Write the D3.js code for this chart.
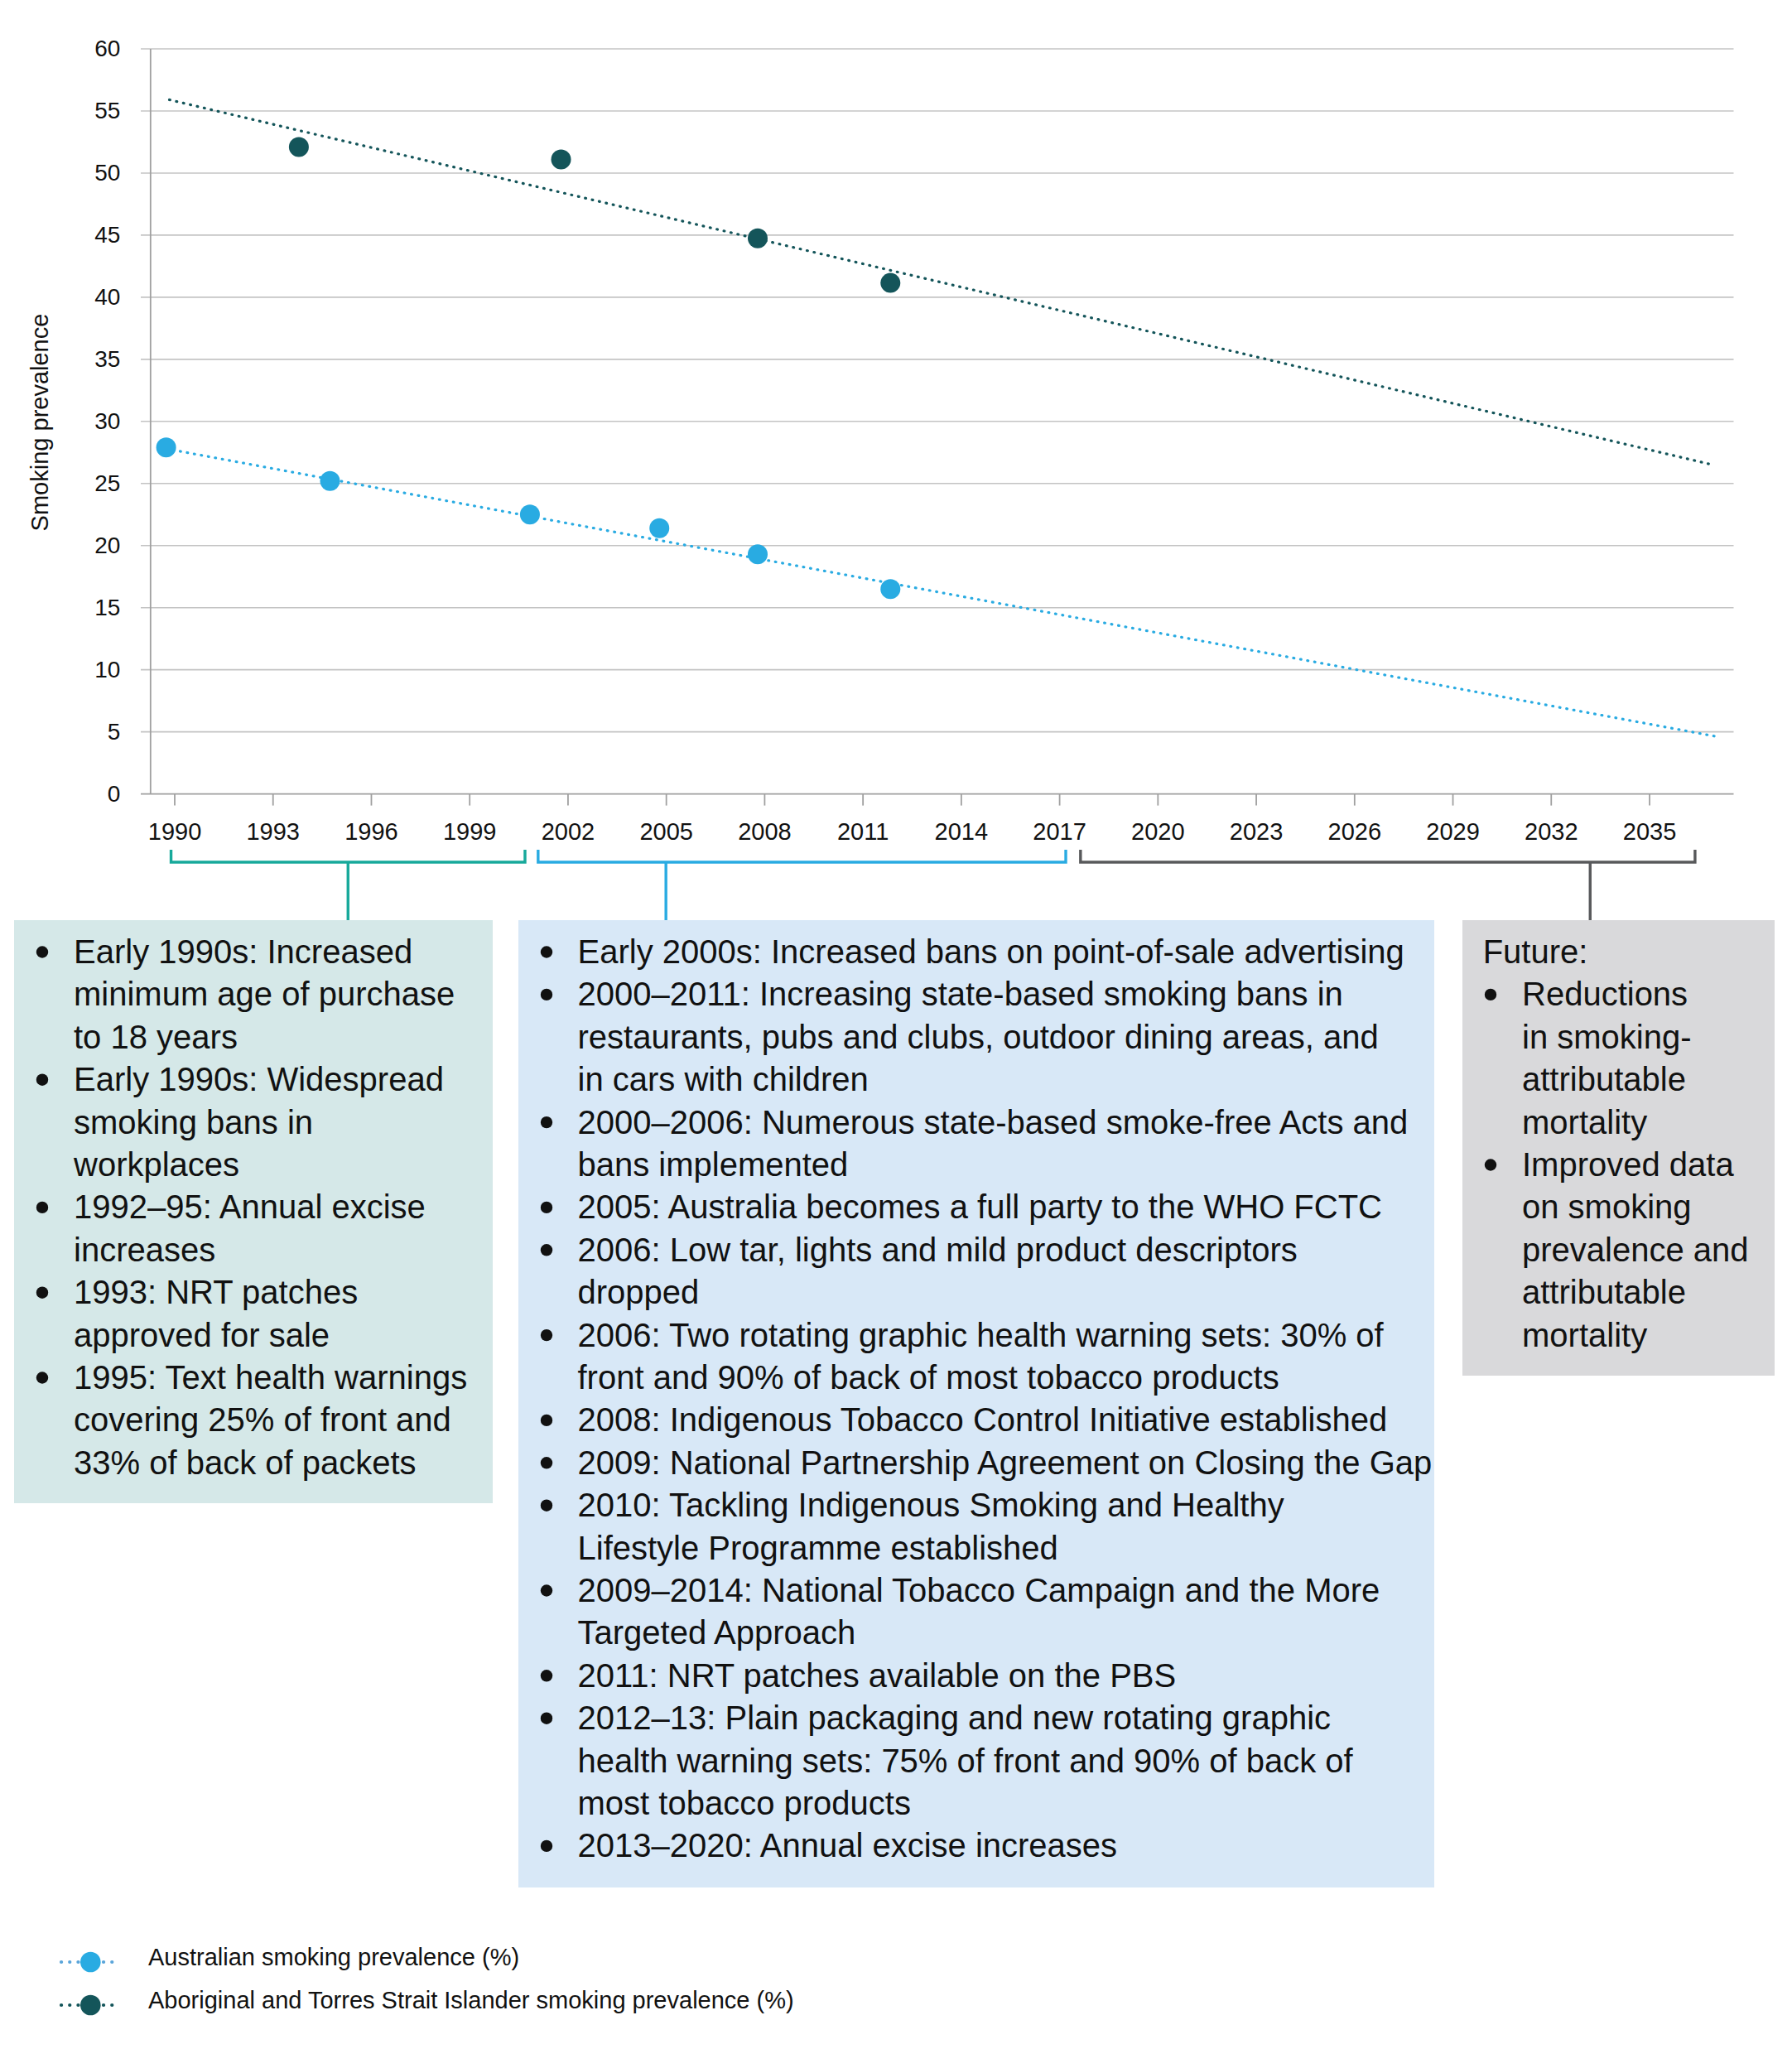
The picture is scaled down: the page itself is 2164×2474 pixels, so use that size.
<!DOCTYPE html>
<html><head><meta charset="utf-8">
<script src="https://cdn.jsdelivr.net/npm/d3@7"></script>
<style>
html,body{margin:0;padding:0;background:#fff;}
svg{display:block;}
text{font-family:"Liberation Sans",Arial,Helvetica,sans-serif;fill:#111;}
</style>
</head><body>
<svg id="chart" width="2164" height="2474"></svg>
<script>
// ---------- data ----------
const tickYears = [1990,1993,1996,1999,2002,2005,2008,2011,2014,2017,2020,2023,2026,2029,2032,2035];
const yTicks = [0,5,10,15,20,25,30,35,40,45,50,55,60];

const australianYears  = [1989.75, 1994.75, 2000.85, 2004.8, 2007.8, 2011.85];
const australianValues = [27.9, 25.2, 22.5, 21.4, 19.3, 16.5];

const indigenousYears  = [1993.8, 2001.8, 2007.8, 2011.85];
const indigenousValues = [52.1, 51.1, 44.75, 41.15];

const australianTrendYears  = [1989.75, 2037.1];
const australianTrendValues = [27.8, 4.6];
const indigenousTrendYears  = [1989.85, 2036.95];
const indigenousTrendValues = [55.9, 26.5];

const seriesNames = ["Australian smoking prevalence (%)", "Aboriginal and Torres Strait Islander smoking prevalence (%)"];

// periods (in years) spanned by the brackets, and where each stem drops
const periodStarts = [1989.9, 2001.1, 2017.65];
const periodEnds   = [2000.7, 2017.2, 2036.4];
const periodStems  = [1995.3, 2005.0, 2033.2];

const earlyItems = [
  ["Early 1990s: Increased", "minimum age of purchase", "to 18 years"],
  ["Early 1990s: Widespread", "smoking bans in", "workplaces"],
  ["1992\u201395: Annual excise", "increases"],
  ["1993: NRT patches", "approved for sale"],
  ["1995: Text health warnings", "covering 25% of front and", "33% of back of packets"]
];
const midItems = [
  ["Early 2000s: Increased bans on point-of-sale advertising"],
  ["2000\u20132011: Increasing state-based smoking bans in", "restaurants, pubs and clubs, outdoor dining areas, and", "in cars with children"],
  ["2000\u20132006: Numerous state-based smoke-free Acts and", "bans implemented"],
  ["2005: Australia becomes a full party to the WHO FCTC"],
  ["2006: Low tar, lights and mild product descriptors", "dropped"],
  ["2006: Two rotating graphic health warning sets: 30% of", "front and 90% of back of most tobacco products"],
  ["2008: Indigenous Tobacco Control Initiative established"],
  ["2009: National Partnership Agreement on Closing the Gap"],
  ["2010: Tackling Indigenous Smoking and Healthy", "Lifestyle Programme established"],
  ["2009\u20132014: National Tobacco Campaign and the More", "Targeted Approach"],
  ["2011: NRT patches available on the PBS"],
  ["2012\u201313: Plain packaging and new rotating graphic", "health warning sets: 75% of front and 90% of back of", "most tobacco products"],
  ["2013\u20132020: Annual excise increases"]
];
const futureTitle = "Future:";
const futureItems = [
  ["Reductions", "in smoking-", "attributable", "mortality"],
  ["Improved data", "on smoking", "prevalence and", "attributable", "mortality"]
];

// ---------- styles ----------
const colLight = "#29abe2";
const colDark = "#14555a";
const colGreen = "#17a99b";
const colGrey = "#58595b";

const svg = d3.select("#chart");

const plotLeft = 181.8, plotRight = 2093.5, gridLeft = 170;
const x = d3.scaleLinear().domain([1990, 2035]).range([210.5, 1991.5]);
const y = d3.scaleLinear().domain([0, 60]).range([958.6, 59]);

// gridlines
svg.append("g").selectAll("line").data(yTicks.filter(d => d > 0)).join("line")
  .attr("x1", gridLeft).attr("x2", plotRight)
  .attr("y1", d => y(d)).attr("y2", d => y(d))
  .attr("stroke", "#c4c4c4").attr("stroke-width", 1.6);

// y axis
const yAxis = svg.append("g").attr("transform", `translate(${gridLeft},0)`)
  .call(d3.axisLeft(y).tickValues(yTicks).tickSize(0).tickPadding(24.7));
yAxis.select(".domain").remove();
yAxis.selectAll("text").attr("font-size", 28).attr("fill", "#111")
  .style("font-family", '"Liberation Sans",Arial,Helvetica,sans-serif');

// x axis
const xAxis = svg.append("g").attr("transform", `translate(0,${y(0)})`)
  .call(d3.axisBottom(x).tickValues(tickYears).tickFormat(d3.format("d")).tickSize(14));
xAxis.select(".domain").remove();
xAxis.selectAll("line").attr("stroke", "#a0a0a0").attr("stroke-width", 1.8);
xAxis.selectAll("text").attr("font-size", 29).attr("fill", "#111")
  .attr("y", 55.4).attr("dy", 0)
  .style("font-family", '"Liberation Sans",Arial,Helvetica,sans-serif');

// axis lines
svg.append("line").attr("x1", gridLeft).attr("x2", plotRight)
  .attr("y1", y(0)).attr("y2", y(0)).attr("stroke", "#a0a0a0").attr("stroke-width", 1.8);
svg.append("line").attr("x1", plotLeft).attr("x2", plotLeft)
  .attr("y1", y(60)).attr("y2", y(0)).attr("stroke", "#a0a0a0").attr("stroke-width", 1.8);

// y label
svg.append("text").attr("transform", `translate(58,510) rotate(-90)`)
  .attr("text-anchor", "middle").attr("font-size", 29).text("Smoking prevalence");

// trend lines
const line = d3.line().x(d => x(d[0])).y(d => y(d[1]));
function trend(years, vals, col) {
  svg.append("path").datum(years.map((d, i) => [d, vals[i]]))
    .attr("d", line).attr("fill", "none").attr("stroke", col)
    .attr("stroke-width", 3.2).attr("stroke-linecap", "round")
    .attr("stroke-dasharray", "0.8 7.8");
}
trend(indigenousTrendYears, indigenousTrendValues, colDark);
trend(australianTrendYears, australianTrendValues, colLight);

// points
function points(years, vals, col) {
  svg.append("g").selectAll("circle").data(years.map((d, i) => [d, vals[i]])).join("circle")
    .attr("cx", d => x(d[0])).attr("cy", d => y(d[1])).attr("r", 12).attr("fill", col);
}
points(indigenousYears, indigenousValues, colDark);
points(australianYears, australianValues, colLight);

// brackets
const bracketCols = [colGreen, colLight, colGrey];
const bracketTop = 1026, bracketY = 1041, boxTop = 1111;
periodStarts.forEach((s, i) => {
  const g = svg.append("g").attr("stroke", bracketCols[i]).attr("stroke-width", 3.4).attr("fill", "none");
  g.append("path").attr("d", `M${x(s)},${bracketTop} V${bracketY} H${x(periodEnds[i])} V${bracketTop}`);
  g.append("line").attr("x1", x(periodStems[i])).attr("x2", x(periodStems[i]))
    .attr("y1", bracketY).attr("y2", boxTop);
});

// boxes
const lineH = 51.4, firstBase = 1163, fs = 40;
function box(x0, x1, y1, bg, bulletX, textX, items, title, titleX) {
  svg.append("rect").attr("x", x0).attr("y", boxTop).attr("width", x1 - x0).attr("height", y1 - boxTop).attr("fill", bg);
  let yy = firstBase;
  if (title) {
    svg.append("text").attr("x", titleX).attr("y", yy).attr("font-size", fs).text(title);
    yy += lineH;
  }
  items.forEach(lines => {
    svg.append("circle").attr("cx", bulletX).attr("cy", yy - 13.5).attr("r", 7.2).attr("fill", "#111");
    lines.forEach(l => {
      svg.append("text").attr("x", textX).attr("y", yy).attr("font-size", fs).text(l);
      yy += lineH;
    });
  });
}
box(17, 595, 1815, "#d5e8e8", 51, 89, earlyItems);
box(626, 1732, 2279, "#d8e8f7", 660, 697.5, midItems);
box(1766, 2143, 1661, "#d9d9db", 1800, 1838, futureItems, futureTitle, 1790.7);

// legend
const legendCols = [colLight, colDark];
const legendY = [2369, 2421];
seriesNames.forEach((name, i) => {
  const g = svg.append("g");
  g.append("line").attr("x1", 74).attr("x2", 145).attr("y1", legendY[i]).attr("y2", legendY[i])
    .attr("stroke", i === 0 ? "#5aa5da" : colDark).attr("stroke-width", 4.2)
    .attr("stroke-linecap", "round").attr("stroke-dasharray", "0.1 10.1");
  g.append("circle").attr("cx", 109.3).attr("cy", legendY[i]).attr("r", 12.3).attr("fill", legendCols[i]);
  g.append("text").attr("x", 179).attr("y", legendY[i] + 3.5).attr("font-size", 29).text(name);
});
</script>
</body></html>
